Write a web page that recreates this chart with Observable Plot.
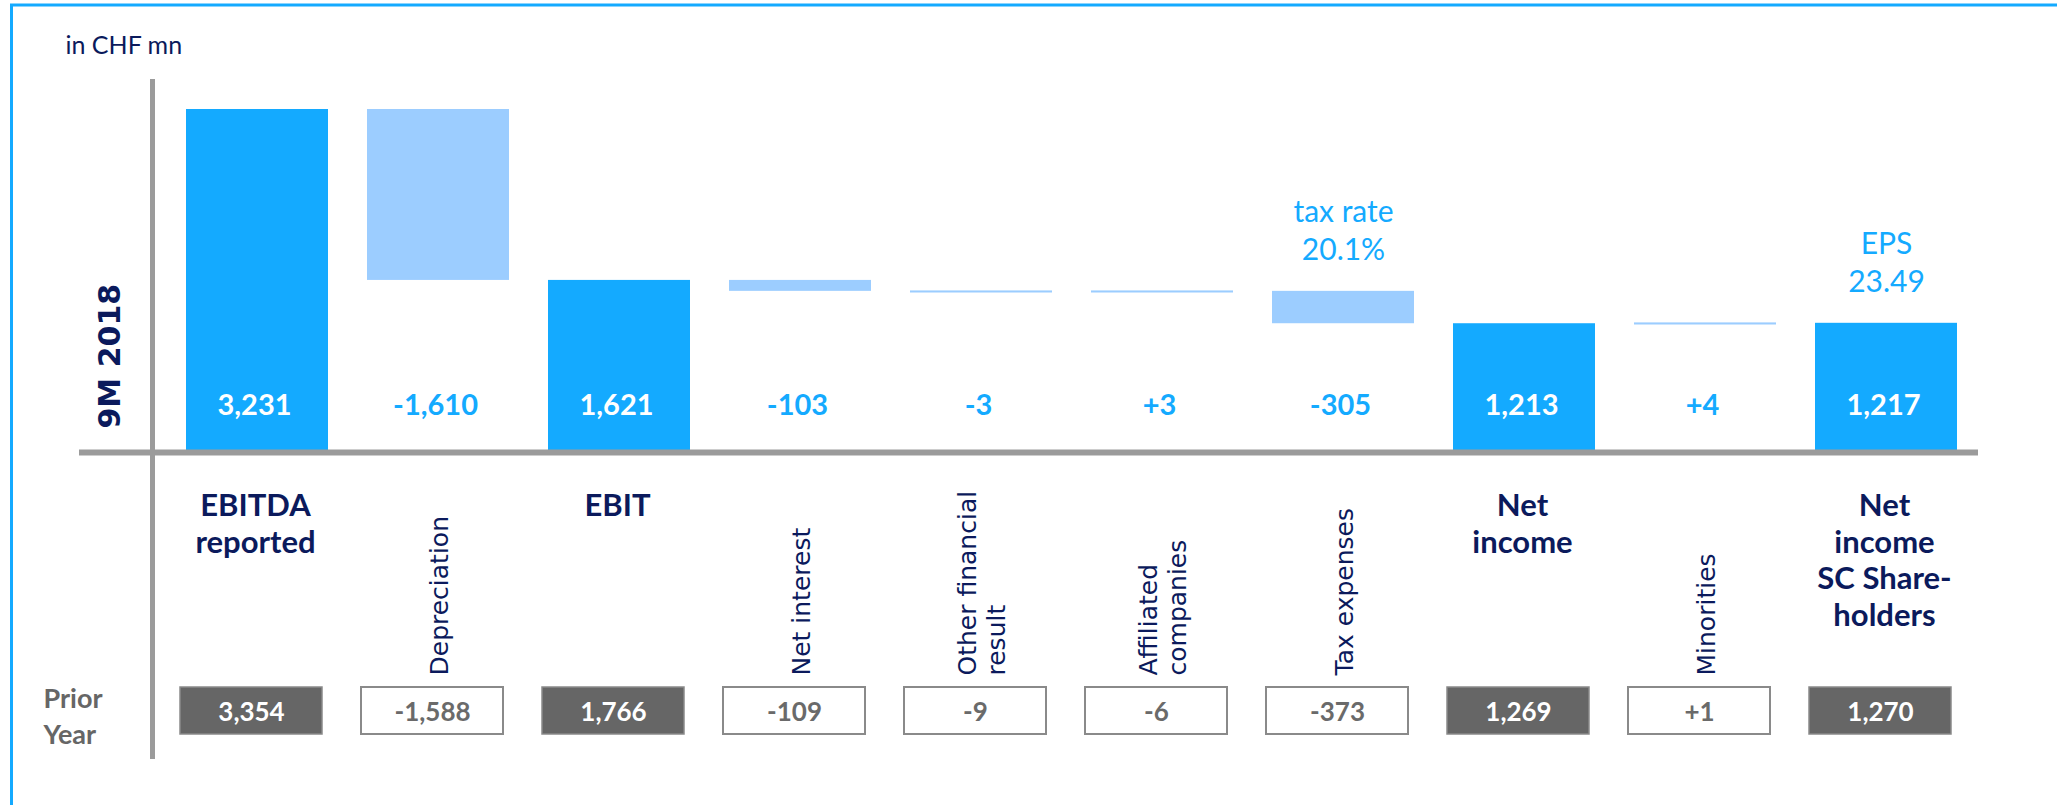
<!DOCTYPE html>
<html>
<head>
<meta charset="utf-8">
<script src="https://cdn.jsdelivr.net/npm/d3@7"></script>
<script src="https://cdn.jsdelivr.net/npm/@observablehq/plot@0.6"></script>
<style>
  html, body { margin: 0; padding: 0; background: #fff; overflow: hidden; }
</style>
</head>
<body>
<div id="chart"></div>
<script>
// ---- data ----
const categories = ["EBITDA reported", "Depreciation", "EBIT", "Net interest", "Other financial result",
  "Affiliated companies", "Tax expenses", "Net income", "Minorities", "Net income SC Shareholders"];
const labelLines = ["EBITDA\nreported", "Depreciation", "EBIT", "Net interest", "Other financial\nresult",
  "Affiliated\ncompanies", "Tax expenses", "Net\nincome", "Minorities", "Net\nincome\nSC Share-\nholders"];
const kinds = ["total", "delta", "total", "delta", "delta", "delta", "delta", "total", "delta", "total"];
const values2018 = [3231, -1610, 1621, -103, -3, 3, -305, 1213, 4, 1217];
const priorYear = [3354, -1588, 1766, -109, -9, -6, -373, 1269, 1, 1270];
const annotationCategories = ["Tax expenses", "Net income SC Shareholders"];
const annotationTexts = ["tax rate\n20.1%", "EPS\n23.49"];
const unitLabel = "in CHF mn";
const periodLabel = "9M 2018";
const priorLabel = "Prior\nYear";

// ---- derived waterfall table ----
let running = 0;
const rows = categories.map((c, i) => {
  const v = values2018[i], kind = kinds[i];
  let y1, y2;
  if (kind === "total") { y1 = 0; y2 = v; running = v; }
  else { y1 = running; y2 = running + v; running = y2; }
  return {category: c, label: labelLines[i], kind, value: v, y1, y2, prior: priorYear[i]};
});
const annotations = annotationCategories.map((c, i) => {
  const r = rows.find(d => d.category === c);
  return {category: c, text: annotationTexts[i], top: Math.max(r.y1, r.y2)};
});

const thousands = d3.format(",");
const fmt = (v, kind) => kind === "total" ? thousands(v) : (v > 0 ? "+" : "-") + thousands(Math.abs(v));

const totals = rows.filter(d => d.kind === "total");
const deltas = rows.filter(d => d.kind === "delta");

const C = {
  total: "#14aaff",
  delta: "#9ccdff",
  navy: "#0b1a5c",
  axis: "#9b9b9b",
  boxDark: "#666666",
  boxStroke: "#8a8a8a",
  boxText: "#6a6a6a",
  border: "#14aaff"
};

const chart = Plot.plot({
  width: 2057,
  height: 805,
  margin: 0,
  style: {fontFamily: "Lato, sans-serif", background: "white"},
  x: {domain: categories, range: [184, 1958], paddingInner: 0.218, paddingOuter: 0, axis: null},
  y: {domain: [0, 3231], range: [452, 109], axis: null},
  marks: [
    // outer frame (top and left visible)
    Plot.frame({stroke: C.border, strokeWidth: 3, insetLeft: 11, insetTop: 4.5, insetRight: -20, insetBottom: -20}),
    // waterfall bars
    Plot.barY(totals, {x: "category", y1: "y1", y2: "y2", fill: C.total}),
    Plot.barY(deltas, {x: "category", y1: "y1", y2: "y2", fill: C.delta}),
    Plot.tickY(deltas.filter(d => Math.abs(d.value) <= 10), {x: "category", y: d => (d.y1 + d.y2) / 2, stroke: C.delta, strokeWidth: 2}),
    // axis lines
    Plot.ruleY([0], {stroke: C.axis, strokeWidth: 6, insetLeft: 79, insetRight: 79}),
    Plot.ruleX([0], {x: null, stroke: C.axis, strokeWidth: 5, dx: 152 - 2057 / 2, insetTop: 79, insetBottom: 46}),
    // value labels
    Plot.text(totals, {x: "category", text: d => fmt(d.value, d.kind), frameAnchor: "top", lineAnchor: "middle", dy: 405, dx: -3,
      fill: "white", fontSize: 29, fontWeight: "bold", fontFamily: "Lato"}),
    Plot.text(deltas, {x: "category", text: d => fmt(d.value, d.kind), frameAnchor: "top", lineAnchor: "middle", dy: 405, dx: -3,
      fill: C.total, fontSize: 29, fontWeight: "bold", fontFamily: "Lato"}),
    // annotations above bars
    Plot.text(annotations, {x: "category", y: "top", text: "text", lineAnchor: "bottom", dy: -31,
      fill: C.total, fontSize: 30, fontFamily: "Lato", lineHeight: 1.27}),
    // category labels
    Plot.text(totals, {x: "category", text: "label", frameAnchor: "top", lineAnchor: "top", dy: 489, dx: -2,
      fill: C.navy, fontSize: 31, fontWeight: "bold", fontFamily: "Lato", lineHeight: 1.19}),
    Plot.text(deltas, {x: "category", text: "label", frameAnchor: "top", dy: 675, rotate: -90,
      textAnchor: "start", lineAnchor: "middle", fill: C.navy, fontSize: 25, fontFamily: "DejaVu Sans", lineHeight: 1.15}),
    // prior year boxes
    Plot.cell(totals, {x: "category", fill: C.boxDark, stroke: C.boxStroke, strokeWidth: 1.5, insetTop: 687, insetBottom: 71, dx: -6}),
    Plot.cell(deltas, {x: "category", fill: "white", stroke: C.boxStroke, strokeWidth: 2, insetTop: 687, insetBottom: 71, dx: -6}),
    Plot.text(totals, {x: "category", text: d => fmt(d.prior, d.kind), frameAnchor: "top", lineAnchor: "middle", dy: 712, dx: -6,
      fill: "white", fontSize: 26, fontWeight: "bold", fontFamily: "Lato"}),
    Plot.text(deltas, {x: "category", text: d => fmt(d.prior, d.kind), frameAnchor: "top", lineAnchor: "middle", dy: 712, dx: -6,
      fill: C.boxText, fontSize: 26, fontWeight: "bold", fontFamily: "Lato"}),
    // side labels
    Plot.text([unitLabel], {text: d => d, frameAnchor: "top-left", dx: 65, dy: 36, lineAnchor: "top", textAnchor: "start",
      fill: C.navy, fontSize: 25, fontFamily: "Lato"}),
    Plot.text([periodLabel], {text: d => d, frameAnchor: "top-left", dx: 110, dy: 428, rotate: -90, textAnchor: "start",
      lineAnchor: "middle", fill: C.navy, fontSize: 30, fontWeight: "bold", fontFamily: "DejaVu Sans"}),
    Plot.text([priorLabel], {text: d => d, frameAnchor: "top-left", dx: 43, dy: 683, lineAnchor: "top", textAnchor: "start",
      fill: "#666666", fontSize: 27, fontWeight: "bold", fontFamily: "Lato", lineHeight: 1.3})
  ]
});
document.getElementById("chart").appendChild(chart);
</script>
</body>
</html>
